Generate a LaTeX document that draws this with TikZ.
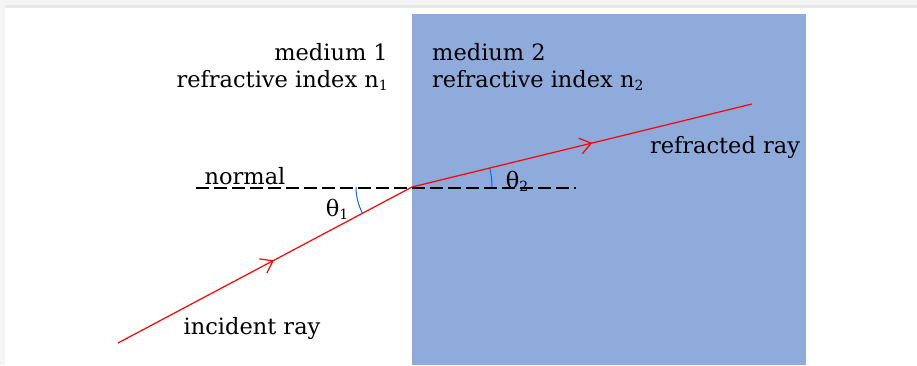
\documentclass[tikz,border=0pt]{standalone}
\usepackage{fontspec}
\setmainfont{DejaVu Serif}
\usetikzlibrary{arrows.meta,decorations.markings}
\definecolor{mediumblue}{RGB}{143,171,220}
\definecolor{framegray}{RGB}{232,232,232}
\newcommand{\sub}[1]{\raisebox{-0.12em}{\fontsize{14}{14}\selectfont #1}}
\begin{document}
\begin{tikzpicture}[x=1pt, y=-1pt,
                txt/.style={inner sep=0pt, font=\fontsize{22.5}{27}\selectfont},
                ray/.style={draw=red, line width=1.2pt,
                  postaction={decorate, decoration={markings,
                    mark=at position 0.53 with {\arrow{Straight Barb[length=11pt, width=16pt, line width=1.2pt]}}}}},
                angle/.style={draw=blue!60!cyan, line width=1pt}]

                \useasboundingbox (0,0) rectangle (917,365);
                % frame of the page
                \fill[framegray!50] (0,0) rectangle (917,7);
                \fill[framegray] (0,5) rectangle (917,8);
                \fill[framegray!50] (0,0) rectangle (5,365);

                % second medium
                \fill[mediumblue] (412,14) rectangle (806,365);

                \node[txt, align=right, anchor=east] (m1) at (388,67) {medium 1\\refractive index n\sub{1}};
                \node[txt, align=left, anchor=west] (m2) at (432,67) {medium 2\\refractive index n\sub{2}};

                \coordinate (src) at (118,343);
                \coordinate (hit) at (412,187);
                \coordinate (dst) at (752,104);
                \coordinate (nl) at (196,188);
                \coordinate (nr) at (576,188);

                \draw[line width=1.2pt, dash pattern=on 13pt off 5pt] (nl) -- (nr);
                \node[txt] (normal) at (245,176) {normal};

                \draw[angle] (hit) ++(180:56) arc[start angle=180, end angle=152, radius=56];
                \draw[angle] (hit) ++(0:80) arc[start angle=0, end angle=-14, radius=80];
                \node[txt] (t1) at (337,209) {θ\sub{1}};
                \node[txt] (t2) at (517,181) {θ\sub{2}};

                \path[ray] (src) -- (hit);
                \path[ray] (hit) -- (dst);

                \node[txt] (inc) at (252,328) {incident ray};
                \node[txt] (refr) at (725,147) {refracted ray};
            \end{tikzpicture}
\end{document}
